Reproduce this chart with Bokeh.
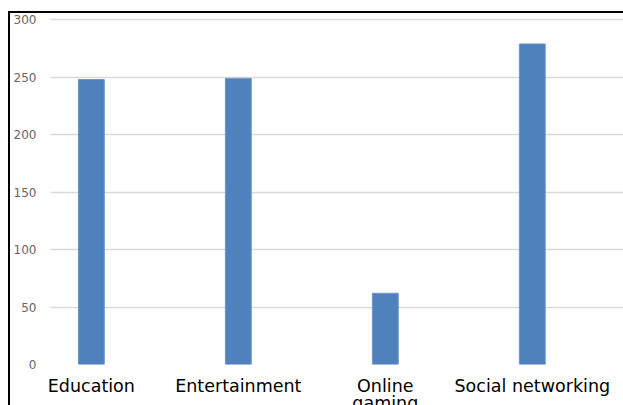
from bokeh.plotting import figure
from bokeh.models import Range1d, FixedTicker, ColumnDataSource
from bokeh.embed import file_html
from bokeh.resources import INLINE

categories = ["Education", "Entertainment", "Online\ngaming", "Social networking"]
values = [248, 249, 62, 279]
y_ticks = [0, 50, 100, 150, 200, 250, 300]

xs = list(range(len(categories)))
src = ColumnDataSource(dict(x=xs, top=values))

p = figure(width=629, height=400, output_backend="svg", toolbar_location=None,
           x_range=Range1d(-0.278, 3.743), y_range=Range1d(0, 302),
           min_border_left=36, min_border_right=0, min_border_top=4, min_border_bottom=41)
p.margin = (11, 0, 0, 8)
p.styles = {"border-left": "2px solid black", "border-top": "2px solid black", "box-sizing": "content-box"}

p.vbar(x="x", top="top", width=0.176, source=src, fill_color="#4f81bd", line_color="#6e98cc", line_width=1)

p.outline_line_color = None
p.xgrid.grid_line_color = None
p.ygrid.grid_line_color = "#d9d9d9"
p.ygrid.grid_line_width = 1.5
p.yaxis.ticker = FixedTicker(ticks=y_ticks)
p.xaxis.ticker = FixedTicker(ticks=xs)
p.xaxis.major_label_overrides = {i: c for i, c in enumerate(categories)}

for ax in (p.xaxis[0], p.yaxis[0]):
    ax.axis_line_color = None
    ax.major_tick_line_color = None
    ax.minor_tick_line_color = None

p.yaxis.major_label_text_font = "DejaVu Sans"
p.yaxis.major_label_text_font_size = "12px"
p.yaxis.major_label_text_color = "#666666"
p.yaxis.major_label_standoff = 8

p.xaxis.major_label_text_font = "DejaVu Sans"
p.xaxis.major_label_text_font_size = "17.5px"
p.xaxis.major_label_text_color = "#000000"
p.xaxis.major_label_text_line_height = 0.85
p.xaxis.major_label_standoff = 5

open("out.html", "w").write(file_html(p, INLINE))
